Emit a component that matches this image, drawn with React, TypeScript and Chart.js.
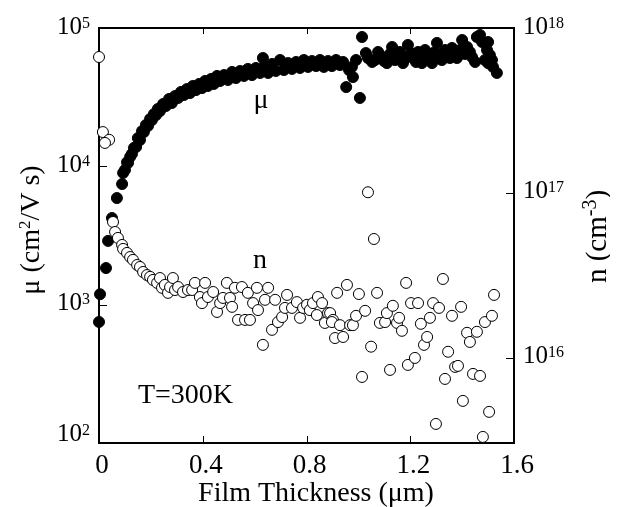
import React, { useEffect, useRef } from "react";
import { Chart, registerables } from "chart.js";

Chart.register(...registerables);

// ---------- axis ticks ----------
const xTickValues = [0, 0.4, 0.8, 1.2, 1.6];
const xTickLabels = ["0", "0.4", "0.8", "1.2", "1.6"];
const muTickValues = [100, 1000, 10000, 100000];
const muTickExponents = ["2", "3", "4", "5"];
const nTickValues = [1e16, 1e17, 1e18];
const nTickExponents = ["16", "17", "18"];

const xMin = 0;
const xMax = 1.6;
const muMin = 100;
const muMax = 100000;
const nMin = 3.05e15;
const nMax = 1e18;

// ---------- mobility μ (filled circles) ----------
const muThickness = [
  0.0, 0.004, 0.027, 0.035, 0.05, 0.069, 0.089, 0.093, 0.1, 0.108, 0.112, 0.12, 0.127, 0.135, 0.143,
  0.15, 0.158, 0.166, 0.173, 0.181, 0.189, 0.197, 0.204, 0.212, 0.22, 0.227, 0.235, 0.247, 0.258,
  0.27, 0.281, 0.293, 0.305, 0.316, 0.328, 0.339, 0.351, 0.362, 0.374, 0.386, 0.397, 0.409, 0.42,
  0.432, 0.443, 0.455, 0.467, 0.482, 0.497, 0.513, 0.528, 0.544, 0.559, 0.574, 0.59, 0.605, 0.621,
  0.632, 0.636, 0.652, 0.667, 0.682, 0.698, 0.713, 0.729, 0.744, 0.76, 0.775, 0.79, 0.806, 0.821,
  0.837, 0.852, 0.867, 0.883, 0.898, 0.914, 0.929, 0.941, 0.953, 0.964, 0.975, 0.979, 0.991, 1.006,
  1.014, 1.029, 1.037, 1.053, 1.064, 1.076, 1.083, 1.099, 1.11, 1.122, 1.13, 1.141, 1.149, 1.16,
  1.172, 1.184, 1.191, 1.203, 1.211, 1.222, 1.23, 1.238, 1.245, 1.257, 1.265, 1.276, 1.284, 1.295,
  1.303, 1.315, 1.322, 1.334, 1.342, 1.353, 1.361, 1.373, 1.38, 1.392, 1.4, 1.411, 1.419, 1.43,
  1.438, 1.45, 1.457, 1.469, 1.477, 1.488, 1.496, 1.5, 1.5, 1.507, 1.515, 1.519, 1.534,
];
const muValues = [
  750, 1190, 1840, 2890, 4230, 5900, 7450, 8960, 9410, 10700, 10600, 11700, 12300, 13600, 13800,
  16000, 15500, 18000, 17700, 19900, 19600, 22000, 21600, 23900, 23500, 26000, 25100, 28200, 27300,
  30700, 28700, 32200, 31200, 34500, 32800, 36200, 33900, 38100, 35600, 39400, 36800, 41400, 38100,
  42800, 39400, 45000, 41400, 45700, 42100, 48100, 43500, 48900, 45000, 50600, 45700, 51400, 47300,
  60700, 52300, 47300, 54900, 48900, 58700, 49700, 55800, 50600, 56800, 51400, 58700, 52300, 57700,
  53100, 58700, 52300, 57700, 53100, 58700, 54000, 56800, 37400, 49700, 52300, 44200, 58700, 31200,
  86100, 65900, 60700, 56800, 58700, 67100, 63800, 57700, 55800, 64900, 72900, 58700, 60700, 67100,
  55800, 60700, 75400, 65900, 61700, 56800, 67100, 60700, 55800, 69300, 63800, 58700, 55800, 67100,
  78000, 61700, 58700, 69300, 65900, 60700, 71700, 63800, 60700, 69300, 81900, 64900, 72900, 67100,
  61700, 56800, 86100, 89000, 79200, 58700, 69300, 79200, 55800, 63800, 58700, 52300, 47300,
];

// ---------- carrier density n (open circles) ----------
const nThickness = [
  0.0, 0.015, 0.039, 0.023, 0.054, 0.062, 0.073, 0.089, 0.093, 0.108, 0.12, 0.131, 0.147, 0.158,
  0.17, 0.185, 0.197, 0.208, 0.224, 0.235, 0.243, 0.254, 0.266, 0.274, 0.285, 0.293, 0.305, 0.324,
  0.343, 0.359, 0.37, 0.389, 0.397, 0.409, 0.42, 0.44, 0.455, 0.467, 0.478, 0.493, 0.505, 0.513,
  0.524, 0.536, 0.551, 0.563, 0.574, 0.582, 0.594, 0.609, 0.613, 0.64, 0.652, 0.632, 0.667, 0.679,
  0.69, 0.706, 0.717, 0.725, 0.744, 0.763, 0.775, 0.787, 0.802, 0.813, 0.825, 0.84, 0.844, 0.86,
  0.871, 0.883, 0.891, 0.902, 0.898, 0.91, 0.918, 0.929, 0.941, 0.956, 0.968, 0.979, 0.991, 1.002,
  1.014, 1.026, 1.037, 1.049, 1.06, 1.072, 1.083, 1.103, 1.11, 1.122, 1.133, 1.149, 1.157, 1.168,
  1.184, 1.191, 1.203, 1.218, 1.23, 1.241, 1.253, 1.265, 1.276, 1.288, 1.299, 1.311, 1.326, 1.334,
  1.346, 1.361, 1.373, 1.384, 1.396, 1.403, 1.419, 1.43, 1.442, 1.457, 1.469, 1.48, 1.488, 1.504,
  1.515, 1.523,
];
const nValues = [
  6.67e17, 2.34e17, 2.1e17, 2.01e17, 6.67e16, 5.8e16, 5.34e16, 4.84e16, 4.58e16, 4.33e16, 4.09e16,
  3.93e16, 3.66e16, 3.56e16, 3.32e16, 3.18e16, 3.1e16, 2.97e16, 2.85e16, 3.05e16, 2.66e16, 2.77e16,
  2.48e16, 2.69e16, 3.05e16, 2.58e16, 2.69e16, 2.51e16, 2.58e16, 2.58e16, 2.85e16, 2.34e16, 2.15e16,
  2.85e16, 2.34e16, 2.51e16, 1.9e16, 2.15e16, 2.31e16, 2.85e16, 2.31e16, 2.04e16, 2.66e16, 1.7e16,
  2.69e16, 1.7e16, 2.48e16, 1.7e16, 2.15e16, 2.66e16, 1.95e16, 2.25e16, 2.66e16, 1.2e16, 1.48e16,
  2.25e16, 1.65e16, 1.77e16, 2.01e16, 2.41e16, 2.01e16, 2.18e16, 1.75e16, 2.01e16, 2.1e16, 1.95e16,
  2.15e16, 1.82e16, 2.34e16, 2.15e16, 1.63e16, 1.87e16, 1.87e16, 1.7e16, 1.65e16, 1.32e16, 2.48e16,
  1.58e16, 1.34e16, 2.77e16, 1.58e16, 1.58e16, 1.8e16, 2.44e16, 7.67e15, 1.93e16, 1.01e17, 1.17e16,
  5.26e16, 2.48e16, 1.63e16, 1.65e16, 1.87e16, 8.46e15, 2.07e16, 1.63e16, 1.75e16, 1.46e16, 2.85e16,
  9.07e15, 2.15e16, 1.0e16, 2.15e16, 1.61e16, 1.2e16, 1.34e16, 1.75e16, 2.15e16, 3.98e15, 2.01e16,
  3.01e16, 7.46e15, 1.09e16, 1.8e16, 8.82e15, 8.95e15, 2.04e16, 5.49e15, 1.42e16, 1.25e16, 8.0e15,
  1.44e16, 7.78e15, 3.32e15, 1.65e16, 4.71e15, 1.8e16, 2.41e16,
];

// ---------- texts ----------
const xTitle = "Film Thickness (μm)";
const muTitleRuns = [{ t: "μ (cm" }, { t: "2", sup: true }, { t: "/V s)" }];
const nTitleRuns = [{ t: "n (cm" }, { t: "-3", sup: true }, { t: ")" }];
const muLabel = { text: "μ", x: 0.625, y: 26400 };
const nLabel = { text: "n", x: 0.621, y: 1840 };
const tempLabel = { text: "T=300K", x: 0.15, y: 195 };

const FAMILY = '"Liberation Serif", "Times New Roman", Times, serif';
const font = (s: number) => `${s}px ${FAMILY}`;

type Run = { t: string; sup?: boolean };

function drawRuns(
  ctx: CanvasRenderingContext2D,
  runs: Run[],
  x: number,
  y: number,
  size: number,
  supSize: number,
  supRise: number,
  align: "left" | "center" | "right"
) {
  const widths = runs.map((r) => {
    ctx.font = font(r.sup ? supSize : size);
    return ctx.measureText(r.t).width;
  });
  const total = widths.reduce((a, b) => a + b, 0);
  let cx = align === "left" ? x : align === "center" ? x - total / 2 : x - total;
  ctx.textAlign = "left";
  ctx.textBaseline = "alphabetic";
  runs.forEach((r, i) => {
    ctx.font = font(r.sup ? supSize : size);
    ctx.fillText(r.t, cx, r.sup ? y - supRise : y);
    cx += widths[i];
  });
}

const decorPlugin = {
  id: "decor",
  beforeDatasetsDraw(chart: any) {
    const { ctx, chartArea: a, scales } = chart;
    ctx.save();
    ctx.strokeStyle = "#000";
    ctx.lineWidth = 2;
    ctx.strokeRect(a.left, a.top, a.right - a.left, a.bottom - a.top);
    ctx.lineWidth = 1;
    ctx.beginPath();
    xTickValues.forEach((v) => {
      if (v <= xMin || v >= xMax) return;
      const px = Math.round(scales.x.getPixelForValue(v)) + 0.5;
      ctx.moveTo(px, a.bottom);
      ctx.lineTo(px, a.bottom - 7);
      ctx.moveTo(px, a.top);
      ctx.lineTo(px, a.top + 6);
    });
    muTickValues.forEach((v) => {
      if (v <= muMin || v >= muMax) return;
      const py = Math.round(scales.y.getPixelForValue(v)) + 0.5;
      ctx.moveTo(a.left, py);
      ctx.lineTo(a.left + 8, py);
    });
    nTickValues.forEach((v) => {
      if (v <= nMin || v >= nMax) return;
      const py = Math.round(scales.y2.getPixelForValue(v)) + 0.5;
      ctx.moveTo(a.right, py);
      ctx.lineTo(a.right - 8, py);
    });
    ctx.stroke();
    ctx.restore();
  },
  afterDraw(chart: any) {
    const { ctx, chartArea: a, scales } = chart;
    ctx.save();
    ctx.fillStyle = "#000";

    // x tick labels
    ctx.font = font(27);
    ctx.textAlign = "center";
    ctx.textBaseline = "alphabetic";
    xTickValues.forEach((v, i) => {
      const px = scales.x.getPixelForValue(v);
      ctx.fillText(xTickLabels[i], px + 3, a.bottom + 30);
    });

    // left (μ) tick labels
    muTickValues.forEach((v, i) => {
      const py = scales.y.getPixelForValue(v);
      const c = Math.min(py - 3, a.bottom - 11);
      drawRuns(ctx, [{ t: "10" }, { t: muTickExponents[i], sup: true }], a.left - 9, c + 8.5, 25, 16, 6, "right");
    });

    // right (n) tick labels
    nTickValues.forEach((v, i) => {
      const py = scales.y2.getPixelForValue(v);
      const c = Math.min(py - 3, a.bottom - 11);
      drawRuns(ctx, [{ t: "10" }, { t: nTickExponents[i], sup: true }], a.right + 9, c + 8.5, 25, 16, 6, "left");
    });

    // x title
    ctx.font = font(28);
    ctx.textAlign = "center";
    ctx.fillText(xTitle, (a.left + a.right) / 2 + 9.5, 493);

    // left title (rotated)
    ctx.save();
    ctx.translate(30.5, (a.top + a.bottom) / 2 - 5.5);
    ctx.rotate(-Math.PI / 2);
    drawRuns(ctx, muTitleRuns, 0, 0, 28, 17, 9, "center");
    ctx.restore();

    // right title (rotated, reads bottom to top)
    ctx.save();
    ctx.translate(597.5, (a.top + a.bottom) / 2 + 1);
    ctx.rotate(-Math.PI / 2);
    drawRuns(ctx, nTitleRuns, 0, 0, 29, 20, 10, "center");
    ctx.restore();

    // annotations
    ctx.font = font(28);
    ctx.textAlign = "center";
    ctx.fillText(muLabel.text, scales.x.getPixelForValue(muLabel.x), scales.y.getPixelForValue(muLabel.y));
    ctx.fillText(nLabel.text, scales.x.getPixelForValue(nLabel.x), scales.y.getPixelForValue(nLabel.y));
    ctx.textAlign = "left";
    ctx.fillText(tempLabel.text, scales.x.getPixelForValue(tempLabel.x), scales.y.getPixelForValue(tempLabel.y));

    ctx.restore();
  },
};

export default function App() {
  const canvasRef = useRef<HTMLCanvasElement | null>(null);

  useEffect(() => {
    const prevMargin = document.body.style.margin;
    document.body.style.margin = "0";
    const canvas = canvasRef.current;
    if (!canvas) return;
    const chart = new Chart(canvas, {
      type: "scatter",
      data: {
        datasets: [
          {
            label: "n",
            data: nThickness.map((x, i) => ({ x, y: nValues[i] })),
            yAxisID: "y2",
            pointRadius: 5.5,
            pointBackgroundColor: "#ffffff",
            pointBorderColor: "#000000",
            pointBorderWidth: 1,
            showLine: false,
            clip: false,
          } as any,
          {
            label: "μ",
            data: muThickness.map((x, i) => ({ x, y: muValues[i] })),
            yAxisID: "y",
            pointRadius: 5.5,
            pointBackgroundColor: "#000000",
            pointBorderColor: "#000000",
            pointBorderWidth: 1,
            showLine: false,
            clip: false,
          } as any,
        ],
      },
      options: {
        responsive: false,
        animation: false,
        events: [],
        layout: { padding: { top: 20, left: 0, right: 0, bottom: 0 } },
        plugins: { legend: { display: false }, tooltip: { enabled: false }, title: { display: false } },
        scales: {
          x: {
            type: "linear",
            position: "bottom",
            min: xMin,
            max: xMax,
            grid: { display: false },
            border: { display: false },
            ticks: { display: false },
            afterFit: (s: any) => {
              s.height = 64;
            },
          },
          y: {
            type: "logarithmic",
            position: "left",
            min: muMin,
            max: muMax,
            grid: { display: false },
            border: { display: false },
            ticks: { display: false },
            afterFit: (s: any) => {
              s.width = 91;
            },
          },
          y2: {
            type: "logarithmic",
            position: "right",
            min: nMin,
            max: nMax,
            grid: { display: false },
            border: { display: false },
            ticks: { display: false },
            afterFit: (s: any) => {
              s.width = 96;
            },
          },
        },
      } as any,
      plugins: [decorPlugin],
    });
    return () => {
      chart.destroy();
      document.body.style.margin = prevMargin;
    };
  }, []);

  return (
    <div style={{ padding: "8px 8px 0 8px", width: 602, height: 499 }}>
      <canvas ref={canvasRef} width={602} height={499} style={{ display: "block", width: 602, height: 499 }} />
    </div>
  );
}
